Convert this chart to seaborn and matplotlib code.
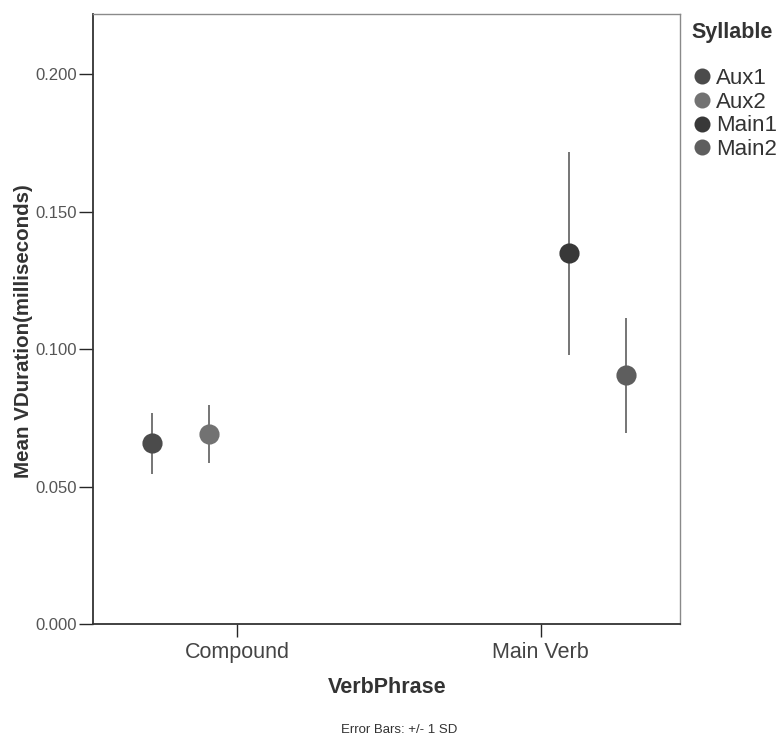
import pandas as pd
import matplotlib.pyplot as plt
import seaborn as sns

# values (mean and +/- 1 SD)
phrases = ['Compound', 'Compound', 'Main Verb', 'Main Verb']
syllables = ['Aux1', 'Aux2', 'Main1', 'Main2']
means = [0.0658, 0.0691, 0.1349, 0.0905]
sds = [0.0111, 0.0106, 0.0369, 0.0209]

df = pd.DataFrame({'VerbPhrase': phrases, 'Syllable': syllables,
                   'VDuration': means, 'SD': sds})

colors = ['#4b4b4b', '#727272', '#383838', '#5e5e5e']

sns.set_style('ticks')
plt.rcParams['font.family'] = ['Liberation Sans', 'DejaVu Sans']

fig = plt.figure(figsize=(7.83, 7.42), dpi=100)
ax = fig.add_axes([0.119, 0.159, 0.750, 0.822])

sns.pointplot(data=df, x='VerbPhrase', y='VDuration', hue='Syllable',
              order=['Compound', 'Main Verb'], hue_order=syllables,
              palette=colors, dodge=0.56, linestyle='none', errorbar=None,
              markers='o', markersize=12.5, ax=ax, zorder=3)

# error bars at the positions seaborn used for each point
for line, syl in zip(list(ax.lines)[:len(syllables)], syllables):
    sub = df[df['Syllable'] == syl]
    xs = line.get_xdata()
    ys = line.get_ydata()
    ax.errorbar(xs, ys, yerr=sub['SD'].values, fmt='none', ecolor='#6a6a6a',
                elinewidth=1.3, capsize=0, zorder=2)

ax.set_ylim(0, 0.2218)
ax.set_xlim(-0.475, 1.46)
ax.set_yticks([0.0, 0.05, 0.10, 0.15, 0.20])
ax.set_yticklabels(['0.000', '0.050', '0.100', '0.150', '0.200'],
                   fontsize=12, color='#555555')
ax.tick_params(axis='x', labelsize=15.5, length=9, width=1, pad=4)
ax.tick_params(axis='y', length=10, width=1, pad=2)
for lab in ax.get_xticklabels():
    lab.set_color('#444444')

ax.set_xlabel('VerbPhrase', fontsize=15.5, fontweight='bold', color='#333333',
              labelpad=10)
ax.set_ylabel('Mean VDuration(milliseconds)', fontsize=14.8, fontweight='bold',
              color='#333333')
ax.yaxis.set_label_coords(-0.103, 0.48)

for side in ['left', 'bottom']:
    ax.spines[side].set_color('#333333')
    ax.spines[side].set_linewidth(1.3)
for side in ['top', 'right']:
    ax.spines[side].set_visible(True)
    ax.spines[side].set_color('#8a8a8a')
    ax.spines[side].set_linewidth(1.0)

sns.move_legend(ax, loc='upper left', bbox_to_anchor=(1.0, 1.005), frameon=False,
                title='Syllable', fontsize=16, title_fontsize=15.5,
                handletextpad=0.2, labelspacing=0.12, borderaxespad=0.1,
                handlelength=0.9)
leg = ax.get_legend()
leg.get_title().set_fontweight('bold')
leg.get_title().set_color('#333333')
leg._legend_box.align = 'left'
leg._legend_box.sep = 18
for h in leg.legend_handles:
    h.set_markersize(9.5)
for t in leg.get_texts():
    t.set_color('#333333')

fig.text(0.51, 0.012, 'Error Bars: +/- 1 SD', ha='center', fontsize=9.5,
         color='#333333')

fig.savefig('out.png', dpi=100)
